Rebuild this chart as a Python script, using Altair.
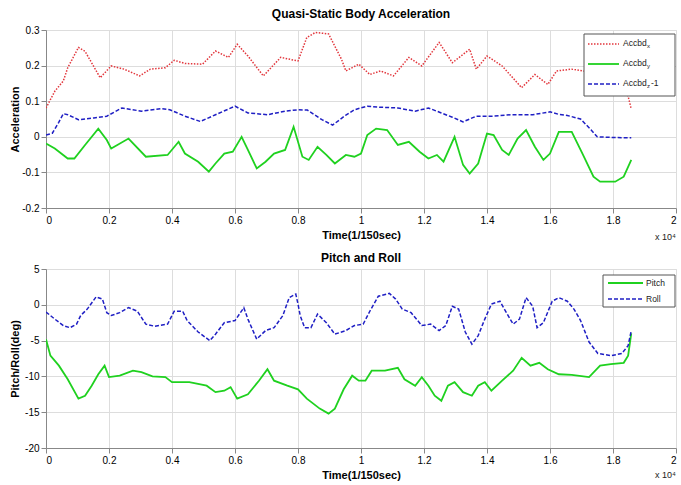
import altair as alt
import pandas as pd

# Time is in units of 1e4 samples (sampled at 150 Hz)
acc_x = [(0.000, 0.081), (0.028, 0.128), (0.055, 0.157), (0.069, 0.194), (0.103, 0.251),
         (0.124, 0.240), (0.172, 0.166), (0.207, 0.199), (0.248, 0.190), (0.297, 0.171),
         (0.331, 0.190), (0.379, 0.194), (0.407, 0.215), (0.441, 0.206), (0.497, 0.204),
         (0.538, 0.241), (0.579, 0.223), (0.607, 0.260), (0.641, 0.227), (0.690, 0.171),
         (0.745, 0.223), (0.800, 0.213), (0.828, 0.279), (0.855, 0.293), (0.897, 0.289),
         (0.938, 0.218), (0.952, 0.185), (0.993, 0.204), (1.028, 0.175), (1.062, 0.185),
         (1.103, 0.171), (1.152, 0.223), (1.193, 0.199), (1.248, 0.265), (1.290, 0.208),
         (1.345, 0.246), (1.366, 0.190), (1.400, 0.227), (1.448, 0.199), (1.510, 0.138),
         (1.552, 0.175), (1.593, 0.147), (1.621, 0.185), (1.669, 0.190), (1.703, 0.185),
         (1.750, 0.180), (1.800, 0.170), (1.835, 0.140), (1.848, 0.114), (1.858, 0.078)]

acc_y = [(0.000, -0.019), (0.028, -0.033), (0.069, -0.061), (0.090, -0.061), (0.124, -0.023),
         (0.166, 0.023), (0.193, -0.009), (0.207, -0.033), (0.262, -0.005), (0.317, -0.056),
         (0.386, -0.051), (0.421, -0.014), (0.441, -0.047), (0.483, -0.070), (0.517, -0.098),
         (0.538, -0.075), (0.566, -0.047), (0.593, -0.042), (0.621, 0.000), (0.641, -0.037),
         (0.669, -0.089), (0.697, -0.070), (0.724, -0.047), (0.759, -0.037), (0.786, 0.028),
         (0.814, -0.056), (0.834, -0.065), (0.862, -0.028), (0.890, -0.051), (0.917, -0.075),
         (0.952, -0.051), (0.979, -0.056), (1.000, -0.047), (1.020, 0.005), (1.048, 0.023),
         (1.083, 0.019), (1.117, -0.023), (1.152, -0.014), (1.186, -0.042), (1.214, -0.061),
         (1.241, -0.051), (1.262, -0.070), (1.297, 0.000), (1.324, -0.079), (1.345, -0.103),
         (1.372, -0.075), (1.400, 0.009), (1.421, 0.005), (1.448, -0.037), (1.469, -0.051),
         (1.497, -0.005), (1.524, 0.019), (1.552, -0.028), (1.579, -0.065), (1.600, -0.047),
         (1.628, 0.014), (1.669, 0.014), (1.703, -0.047), (1.738, -0.112), (1.759, -0.126),
         (1.807, -0.126), (1.834, -0.112), (1.858, -0.065)]

acc_z1 = [(0.000, 0.005), (0.020, 0.010), (0.040, 0.040), (0.055, 0.065), (0.069, 0.062),
          (0.103, 0.048), (0.152, 0.053), (0.193, 0.058), (0.241, 0.081), (0.303, 0.072),
          (0.366, 0.079), (0.393, 0.076), (0.441, 0.058), (0.490, 0.043), (0.538, 0.062),
          (0.600, 0.086), (0.641, 0.067), (0.703, 0.062), (0.759, 0.072), (0.800, 0.076),
          (0.830, 0.075), (0.876, 0.048), (0.910, 0.033), (0.952, 0.061), (0.979, 0.076),
          (1.020, 0.086), (1.062, 0.083), (1.117, 0.081), (1.172, 0.072), (1.214, 0.081),
          (1.255, 0.067), (1.290, 0.055), (1.324, 0.042), (1.366, 0.058), (1.420, 0.058),
          (1.476, 0.062), (1.545, 0.062), (1.600, 0.070), (1.628, 0.063), (1.655, 0.060),
          (1.697, 0.050), (1.730, 0.020), (1.750, 0.000), (1.800, -0.002), (1.858, -0.003)]

pitch = [(0.000, -4.8), (0.014, -7.1), (0.041, -8.5), (0.069, -10.4), (0.103, -13.1),
         (0.124, -12.7), (0.145, -11.3), (0.166, -9.7), (0.186, -8.5), (0.200, -10.1),
         (0.234, -9.9), (0.276, -9.2), (0.303, -9.4), (0.338, -10.0), (0.379, -10.1),
         (0.400, -10.8), (0.455, -10.8), (0.510, -11.3), (0.538, -12.2), (0.566, -12.0),
         (0.586, -11.5), (0.607, -13.1), (0.641, -12.5), (0.676, -10.6), (0.703, -9.0),
         (0.724, -10.6), (0.766, -11.3), (0.800, -11.8), (0.828, -13.1), (0.869, -14.5),
         (0.897, -15.2), (0.917, -14.5), (0.945, -11.8), (0.972, -9.9), (0.993, -10.6),
         (1.014, -10.6), (1.034, -9.2), (1.076, -9.2), (1.117, -8.8), (1.138, -10.4),
         (1.172, -11.3), (1.193, -10.1), (1.214, -11.3), (1.234, -12.7), (1.255, -13.4),
         (1.276, -11.3), (1.297, -10.8), (1.324, -12.2), (1.352, -12.7), (1.372, -11.3),
         (1.393, -10.8), (1.414, -12.0), (1.448, -10.6), (1.483, -9.2), (1.510, -7.4),
         (1.538, -8.5), (1.566, -8.1), (1.593, -9.0), (1.628, -9.7), (1.669, -9.8),
         (1.724, -10.1), (1.759, -8.5), (1.793, -8.3), (1.834, -8.1), (1.848, -7.1),
         (1.858, -4.0)]

roll = [(0.000, -1.0), (0.028, -2.0), (0.055, -2.9), (0.076, -3.2), (0.097, -2.7),
        (0.110, -1.5), (0.131, -0.6), (0.159, 1.1), (0.179, 0.8), (0.193, -1.1),
        (0.207, -1.5), (0.234, -1.1), (0.262, -0.4), (0.290, -0.9), (0.317, -2.7),
        (0.345, -3.0), (0.386, -2.7), (0.407, -0.9), (0.434, -0.9), (0.448, -2.2),
        (0.483, -3.8), (0.520, -5.0), (0.538, -4.1), (0.566, -2.5), (0.600, -2.2),
        (0.628, -0.4), (0.641, -2.0), (0.669, -4.8), (0.697, -3.6), (0.724, -3.2),
        (0.752, -1.5), (0.772, 1.0), (0.793, 1.5), (0.800, 0.1), (0.807, -1.5),
        (0.821, -3.2), (0.841, -3.2), (0.862, -1.3), (0.890, -2.5), (0.917, -4.1),
        (0.952, -3.6), (0.979, -2.9), (1.007, -2.7), (1.028, -0.9), (1.055, 1.2),
        (1.090, 1.6), (1.110, 0.8), (1.131, -0.6), (1.159, -1.1), (1.193, -2.9),
        (1.221, -2.7), (1.248, -3.6), (1.269, -2.9), (1.290, -0.2), (1.310, -0.6),
        (1.331, -3.8), (1.352, -5.5), (1.372, -4.3), (1.393, -2.0), (1.414, 0.1),
        (1.441, 0.5), (1.455, -0.6), (1.483, -2.7), (1.503, -2.0), (1.524, 1.0),
        (1.545, -0.2), (1.559, -3.2), (1.579, -2.5), (1.607, 0.5), (1.628, 1.0),
        (1.655, 0.5), (1.676, -0.6), (1.697, -2.2), (1.724, -5.2), (1.752, -6.8),
        (1.793, -7.1), (1.828, -6.8), (1.848, -5.7), (1.858, -3.6)]

x_ticks = [0, 0.2, 0.4, 0.6, 0.8, 1.0, 1.2, 1.4, 1.6, 1.8, 2.0]
acc_ticks = [-0.2, -0.1, 0, 0.1, 0.2, 0.3]
deg_ticks = [-20, -15, -10, -5, 0, 5]

RED = "#e2363c"
GREEN = "#1fd11f"
BLUE = "#1f1fc4"
FONT = "Liberation Sans"
W = 630
H_TOP, H_BOT = 178, 179

signed_1f = ("datum.value == 0 ? '0' : (datum.value < 0 ? '-' + format(-datum.value, '.1f')"
             " : format(datum.value, '.1f'))")
signed_d = "datum.value < 0 ? '-' + format(-datum.value, 'd') : format(datum.value, 'd')"


def frame(pairs):
    return pd.DataFrame({"t": [p[0] for p in pairs], "v": [p[1] for p in pairs]})


def x_enc():
    return alt.X("t:Q", scale=alt.Scale(domain=[0, 2], nice=False),
                 axis=alt.Axis(values=x_ticks, labelExpr="format(datum.value, '~g')",
                               title="Time(1/150sec)"))


def y_enc(domain, ticks, expr, title):
    return alt.Y("v:Q", scale=alt.Scale(domain=domain, nice=False),
                 axis=alt.Axis(values=ticks, labelExpr=expr, title=title,
                               minExtent=22, maxExtent=22))


def line(pairs, color, dash, ydom, yticks, yexpr, ytitle, width=1.5):
    kw = dict(color=color, strokeWidth=width, clip=True)
    if dash:
        kw["strokeDash"] = dash
    return alt.Chart(frame(pairs)).mark_line(**kw).encode(
        x=x_enc(), y=y_enc(ydom, yticks, yexpr, ytitle))


one = alt.Data(values=[{"k": 0}])


def box(x0, y0, x1, y1):
    return alt.Chart(one).mark_rect(fill="white", stroke="#555", strokeWidth=1).encode(
        x=alt.value(x0), x2=alt.value(x1), y=alt.value(y0), y2=alt.value(y1))


def sample(x0, x1, y, color, dash, width=1.5):
    kw = dict(color=color, strokeWidth=width)
    if dash:
        kw["strokeDash"] = dash
    return alt.Chart(one).mark_rule(**kw).encode(
        x=alt.value(x0), x2=alt.value(x1), y=alt.value(y))


def label(x, y, text, size=8.5, dy=0):
    return alt.Chart(one).mark_text(text=text, align="left", baseline="middle", font=FONT,
                                    fontSize=size, dy=dy, color="#222").encode(
        x=alt.value(x), y=alt.value(y))


def exponent(y):
    return label(W - 21, y, "x 10⁴", size=9)


# ---- upper panel: body acceleration ----
ydom_a = [-0.2, 0.3]
acc_layers = [
    line(acc_x, RED, [1.5, 1.5], ydom_a, acc_ticks, signed_1f, "Acceleration"),
    line(acc_y, GREEN, None, ydom_a, acc_ticks, signed_1f, "Acceleration", width=1.8),
    line(acc_z1, BLUE, [4, 2], ydom_a, acc_ticks, signed_1f, "Acceleration"),
    box(538, 4, 629, 66),
    sample(542, 573, 14, RED, [1.5, 1.5]),
    sample(542, 573, 34, GREEN, None, width=1.8),
    sample(542, 573, 54, BLUE, [4, 2]),
    label(577, 13, "Accbd"), label(601, 13, "x", size=6, dy=3),
    label(577, 33, "Accbd"), label(601, 33, "y", size=6, dy=3),
    label(577, 53, "Accbd"), label(601, 53, "z", size=6, dy=3), label(605, 53, "-1"),
    exponent(H_TOP + 29),
]
top = alt.layer(*acc_layers).properties(
    width=W, height=H_TOP,
    title=alt.TitleParams("Quasi-Static Body Acceleration", fontSize=12, fontWeight="bold",
                          font=FONT, offset=4))

# ---- lower panel: pitch and roll ----
ydom_d = [-20, 5]
deg_layers = [
    line(pitch, GREEN, None, ydom_d, deg_ticks, signed_d, "Pitch/Roll(deg)", width=1.8),
    line(roll, BLUE, [4, 2], ydom_d, deg_ticks, signed_d, "Pitch/Roll(deg)"),
    box(557, 6, 629, 38),
    sample(562, 597, 14, GREEN, None, width=1.8),
    sample(562, 597, 30, BLUE, [4, 2]),
    label(600, 14, "Pitch"),
    label(600, 30, "Roll"),
    exponent(H_BOT + 27),
]
bottom = alt.layer(*deg_layers).properties(
    width=W, height=H_BOT,
    title=alt.TitleParams("Pitch and Roll", fontSize=12, fontWeight="bold",
                          font=FONT, offset=-1))

chart = alt.vconcat(top, bottom, spacing=8).properties(
    padding={"left": 8, "top": 7, "right": 2, "bottom": 2}
).configure_view(stroke="#777", strokeWidth=1).configure_axis(
    grid=True, gridColor="#000", gridDash=[1, 2], gridOpacity=0.75, gridWidth=0.8,
    domain=False, ticks=False, labelFont=FONT, labelFontSize=10, labelColor="#444",
    labelPadding=5, titleFont=FONT, titleFontSize=11, titleFontWeight="bold",
    titleColor="#111"
).configure_axisX(titlePadding=3).configure_axisY(titlePadding=5).configure(
    background="white")

chart.save("out.html", embed_options={"renderer": "svg", "actions": False})
